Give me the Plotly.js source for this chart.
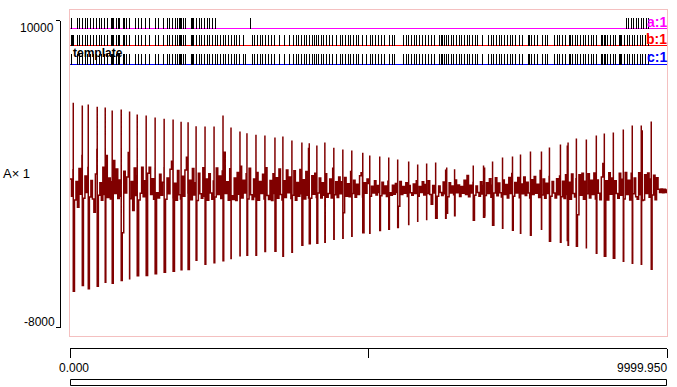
<!DOCTYPE html>
<html><head><meta charset="utf-8">
<script src="https://cdn.plot.ly/plotly-3.0.1.min.js"></script>
<style>html,body{margin:0;padding:0;background:#fff;overflow:hidden}#chart{width:677px;height:387px}
#chart .subplot.xy3 path.js-line, #chart .subplot.xy4 path.js-line, #chart .subplot.xy5 path.js-line{shape-rendering:crispEdges}
</style>
</head><body><div id="chart"></div>
<script>
// ---------------- data ----------------
const timeRange = [0, 9999.95];
const xTickVals = [0, 5000, 9999.95];
const xTickLabels = ['0.000', '9999.950'];
const yTickVals = [-8000, 10000];
const yTickLabels = ['-8000', '10000'];
const channelTitle = 'A\u00d7 1';
const templateLabel = 'template';
const rasterNames = ['a:1', 'b:1', 'c:1'];

const sampleInterval = 25;
const waveNoise = [
 700,-300,1250,-520,560,-946,1320,-180,2085,-420,880,-90,1380,-350,620,-460,-1240,1000,2437,-250,
 480,-540,1400,-200,2085,-380,760,-470,540,1791,-150,1300,-440,650,-300,-2447,1160,-120,820,2261,
 -450,560,-1140,1350,-260,900,-520,-130,1390,-330,610,-550,1050,1400,-200,720,-480,1330,-100,-400,
 980,-250,520,1360,-480,760,-160,1280,1750,-390,460,-540,1200,-220,-470,870,-300,1230,1986,-120,
 640,-510,1320,-230,490,-550,1050,-160,-420,1370,-300,700,-540,1010,-110,-480,590,-350,1350,-200,
 880,-440,1180,2280,-150,540,-540,1310,-280,-490,760,-550,1090,-180,1457,-400,640,-120,1020,-470,
 1330,-220,-500,700,-330,1090,-540,560,-140,980,-460,1360,-260,-490,620,-550,1020,-150,780,-420,
 1300,-200,-530,610,-380,1240,-100,820,-440,-240,1190,-540,500,-300,1260,-160,670,-470,1150,-250,
 600,-420,900,-180,1050,-380,-120,760,-400,480,-250,1010,-360,-150,700,-400,1340,-220,550,-380,
 820,-160,540,-1274,800,-300,430,-330,1147,-140,630,-360,400,-200,900,1070,-350,480,-130,700,
 450,-300,280,-120,600,-230,330,-90,-280,510,-160,300,-320,570,-100,-250,340,-180,450,-90,
 -887,560,-200,270,-130,490,-320,330,-100,-240,420,-150,600,-310,260,-90,550,-230,380,-140,
 610,-200,-770,320,-110,570,-300,290,-80,-260,530,-160,260,-330,480,-120,300,-210,650,-100,
 360,-320,270,-130,640,-200,912,-330,340,-110,500,-250,300,-90,-300,550,-170,330,-260,480,
 -150,720,-360,340,-120,780,-280,470,-100,-350,650,-200,380,-400,800,-150,1030,-300,500,-120,
 790,-390,420,-160,830,-260,520,-110,-410,660,-200,850,-130,400,-380,1206,-230,700,-420,460,
 -140,860,-300,560,-120,-410,720,-210,880,-330,
 570,-440,950,-200,520,-480,1000,-150,-350,720,-1392,960,-250,1050,-480,580,-160,1010,-400,630,
 -200,1060,-470,650,-130,-510,820,1616,-300,610,-520,1080,-180,770,-480,600,-150,-420,1040,-250,
 690,-460,1090,-200,630,-520,1040,-160,760,-330,-480,1070,-220,610,-520,950,-140,1060,-370,700,-230,920,-510,780,
 110,-90,120,-100,110,-90,100
];

const spikeTimes = [55,206,306,456,590,707,858,998,1126,1276,1426,1577,1727,1861,1978,2112,2262,2413,2563,2697,
 2847,2964,3115,3265,3433,3566,3717,3884,3995,4008,4135,4269,4419,4570,4720,4904,5021,5188,5339,5489,
 5673,5824,5974,6125,6292,6310,6442,6755,6927,6945,7078,7245,7412,7546,7713,7897,8031,8215,8330,8343,
 8482,8649,8816,8950,9101,9268,9418,9569,9585,9736];
const spikeTops = [5175,5017,5075,4940,4899,4723,4782,4665,4489,4430,4313,4237,4196,4061,4037,3803,3785,3785,4430,3727,
 3492,3392,3299,3258,3140,3199,2964,2847,2537,2806,2671,2847,2537,2437,2378,2243,2085,2026,1968,1850,
 1733,1557,1616,1675,1264,1380,1282,1499,1499,1380,1733,1968,2026,2144,2320,2320,2554,2730,2671,2847,
 3082,3023,3258,3375,3434,3610,3844,3844,3570,4079];
const spikeBottoms = [-5871,-5537,-5730,-5578,-5343,-5402,-5244,-5144,-4968,-4950,-4851,-4757,-4698,-4616,-4599,-4053,-4288,-4206,-4089,-3954,
 -3795,-3760,-3760,-3543,-3526,-3819,-3584,-3174,-400,-3092,-3057,-2998,-2822,-2763,-2646,-2447,-2470,-2312,-2236,-2136,
 -1960,-1767,-1667,-1591,-1591,-1300,-1450,-1708,-1532,-1450,-2001,-2177,-2294,-2470,-2587,-2236,-2939,-2998,-2900,-3174,
 -3233,-3327,-3643,-3819,-3936,-4112,-4229,-4288,-560,-4581];

const rasterA = [28,122,167,212,256,301,346,390,446,490,535,580,624,691,714,736,781,814,836,891,920,948,1003,1092,1149,1192,1259,1338,1426,1483,1572,1627,1672,1717,1761,1794,1828,1851,1873,1894,1940,2040,2057,2073,2118,2162,2207,2252,2307,2341,2386,2429,
 3015,9318,9363,9402,9447,9485,9530,9569,9609,9652,9698];
const rasterB = [25,42,59,122,167,212,256,301,346,390,446,490,535,580,624,691,714,736,781,814,836,891,920,948,1003,1092,1149,1192,1259,1338,1426,1483,1572,1627,1672,1717,1761,1794,1828,1851,1873,1894,1940,2040,2057,2073,2118,2162,2207,2252,2307,2341,2386,2429,2475,2520,2563,2608,2653,2709,2754,2797,2842,2898,
 3055,3098,3143,3188,3232,3277,3322,3377,3423,3511,3590,3678,3745,3790,3834,3879,3924,3968,4013,4068,4096,4125,4168,4213,4247,4292,4347,4402,4459,4526,4570,4615,4660,4703,4748,4794,4837,4894,4961,
 5033,5071,5116,5161,5217,5272,5350,5395,5439,5584,5630,5673,5718,5763,5807,5852,5907,5952,6007,6053,6108,6186,6215,6242,6275,6303,6332,6387,6432,6476,6521,6566,6609,6655,6700,6743,6788,6834,6911,
 7011,7056,7101,7145,7190,7235,7278,7323,7379,7412,7469,7536,7579,7680,7703,7736,7780,7825,7914,7959,8004,8114,8159,8205,8248,8305,8360,8388,8415,8460,8505,8549,8594,8639,8683,8728,8773,8816,
 8895,8920,8945,8970,8995,9051,9096,9141,9196,9221,9241,9285,9330,9375,9418,9463,9509,9552,9597,9642,9686];
const rasterC = [28,122,167,212,256,301,346,390,446,490,535,580,624,691,714,736,781,814,836,891,920,948,1003,1092,1149,1192,1259,1338,1426,1483,1572,1627,1672,1717,1761,1794,1828,1851,1873,1894,1940,2040,2057,2073,2118,2162,2207,2252,2307,2341,2386,2429,2475,2520,2563,2608,2653,2709,2754,2797,2842,2898,2938,
 3055,3098,3143,3188,3232,3277,3322,3377,3423,3511,3590,3678,3745,3790,3834,3879,3924,3968,4013,4068,4096,4125,4168,4213,4247,4292,4347,4402,4459,4526,4570,4615,4660,4703,4748,4794,4837,4894,4961,
 5033,5071,5116,5161,5217,5272,5350,5395,5439,5584,5630,5673,5718,5763,5807,5852,5907,5952,6007,6053,6108,6186,6215,6242,6275,6303,6332,6387,6432,6476,6521,6566,6609,6655,6700,6743,6788,6834,6911,
 7011,7056,7101,7145,7190,7235,7278,7323,7379,7412,7469,7536,7579,7680,7703,7736,7780,7825,7914,7959,8004,8114,8159,8205,8248,8305,8360,8388,8415,8460,8505,8549,8594,8639,8683,8728,8773,8816,
 8895,8920,8945,8970,8995,9051,9096,9141,9196,9221,9241,9285,9330,9375,9418,9463,9509,9552,9597,9642,9686];

// ---------------- styles / layout ----------------
const W = 677, H = 387;
const fx = p => p / W;
const fy = p => 1 - p / H;
const FONT = 'Liberation Sans, Arial, sans-serif';
const FRAME = '#f4c0c0';
const WAVE = '#800000';
const rowColors = ['#ff00ff', '#ff0000', '#0000ff'];
const rowBase = [28.5, 45.5, 64.5];   // pixel rows of raster baselines
const tickPx = 10.5;

// waveform: samples + spike extremes merged in time order
const pts = waveNoise.map((v, i) => [i * sampleInterval, v, 0]);
spikeTimes.forEach((t, k) => { pts.push([t, spikeTops[k], 1]); pts.push([t, spikeBottoms[k], 2]); });
pts.sort((a, b) => (a[0] - b[0]) || (a[2] - b[2]));

function rasterTrace(times, yax) {
  const x = [], y = [];
  times.forEach(t => { x.push(t, t, null); y.push(0, 1, null); });
  return {type: 'scatter', mode: 'lines', x, y, xaxis: 'x', yaxis: yax,
    line: {color: '#000', width: 1, simplify: false}, hoverinfo: 'skip', showlegend: false};
}
function baseTrace(yax, color) {
  return {type: 'scatter', mode: 'lines', x: timeRange, y: [0, 0], xaxis: 'x', yaxis: yax,
    line: {color, width: 1}, hoverinfo: 'skip', showlegend: false};
}
function rowAxis(i) {
  const yb = rowBase[i];
  return {domain: [fy(yb + 2), fy(yb - 11)], range: [-2 / tickPx, 11 / tickPx], visible: false, fixedrange: true};
}

const traces = [
  {type: 'scatter', mode: 'lines', x: [], y: [], xaxis: 'x', yaxis: 'y', showlegend: false},
  {type: 'scatter', mode: 'lines', x: [], y: [], xaxis: 'x2', yaxis: 'y', showlegend: false},
  baseTrace('y3', rowColors[0]), baseTrace('y4', rowColors[1]), baseTrace('y5', rowColors[2]),
  rasterTrace(rasterA, 'y3'), rasterTrace(rasterB, 'y4'), rasterTrace(rasterC, 'y5'),
  {type: 'scatter', mode: 'lines', x: pts.map(p => p[0]), y: pts.map(p => p[1]), xaxis: 'x', yaxis: 'y2',
    line: {color: WAVE, width: 1.5, shape: 'hv', simplify: false}, hoverinfo: 'skip', showlegend: false}
];

const noTicks = {showgrid: false, zeroline: false, ticks: '', showticklabels: false, fixedrange: true};
const layout = {
  width: W, height: H, margin: {l: 0, r: 0, t: 0, b: 0, pad: 0},
  paper_bgcolor: '#ffffff', plot_bgcolor: 'rgba(0,0,0,0)', showlegend: false,
  font: {family: FONT, size: 11, color: '#000'},
  xaxis: Object.assign({domain: [fx(70), fx(667)], range: timeRange, anchor: 'y',
    showline: true, mirror: true, linecolor: FRAME, linewidth: 1}, noTicks),
  yaxis: Object.assign({domain: [fy(336), fy(10)], range: [0, 1],
    showline: true, mirror: true, linecolor: FRAME, linewidth: 1}, noTicks),
  xaxis2: {overlaying: 'x', anchor: 'free', position: fy(348), side: 'bottom', range: timeRange,
    tickmode: 'array', tickvals: xTickVals, ticks: 'outside', ticklen: 9, tickwidth: 1, tickcolor: '#000',
    showline: true, linecolor: '#000', linewidth: 1, showticklabels: false,
    showgrid: false, zeroline: false, fixedrange: true},
  yaxis2: {domain: [fy(327.5), fy(20.5)], anchor: 'free', position: fx(59.5), side: 'left',
    range: [yTickVals[0], yTickVals[1]], tickmode: 'array', tickvals: yTickVals,
    ticks: 'outside', ticklen: 4, tickwidth: 1, tickcolor: '#000',
    showline: true, linecolor: '#000', linewidth: 1, showticklabels: false,
    showgrid: false, zeroline: false, fixedrange: true},
  yaxis3: rowAxis(0), yaxis4: rowAxis(1), yaxis5: rowAxis(2),
  shapes: [{type: 'rect', xref: 'paper', yref: 'paper', x0: fx(70.5), x1: fx(666.5), y0: fy(385.5), y1: fy(379.5),
    line: {color: '#000', width: 1}, fillcolor: 'rgba(0,0,0,0)'}],
  annotations: [
    {text: yTickLabels[1], x: fx(55), y: fy(27.5), xanchor: 'right', yanchor: 'middle', font: {size: 12}},
    {text: yTickLabels[0], x: fx(55.5), y: fy(321.5), xanchor: 'right', yanchor: 'middle', font: {size: 12}},
    {text: xTickLabels[0], x: fx(74), y: fy(368), xanchor: 'center', yanchor: 'middle', font: {size: 12}},
    {text: xTickLabels[1], x: fx(667.5), y: fy(368), xanchor: 'right', yanchor: 'middle', font: {size: 12}},
    {text: channelTitle, x: fx(2), y: fy(173.5), xanchor: 'left', yanchor: 'middle', font: {size: 13}},
    {text: '<b>' + templateLabel + '</b>', x: fx(72), y: fy(53.5), xanchor: 'left', yanchor: 'middle', font: {size: 12}},
    {text: '<b>' + rasterNames[0] + '</b>', x: fx(668), y: fy(21.7), xanchor: 'right', yanchor: 'middle', font: {size: 14, color: rowColors[0]}},
    {text: '<b>' + rasterNames[1] + '</b>', x: fx(668), y: fy(38.7), xanchor: 'right', yanchor: 'middle', font: {size: 14, color: rowColors[1]}},
    {text: '<b>' + rasterNames[2] + '</b>', x: fx(668), y: fy(57.5), xanchor: 'right', yanchor: 'middle', font: {size: 14, color: rowColors[2]}}
  ].map(a => Object.assign({xref: 'paper', yref: 'paper', showarrow: false, borderpad: 0}, a))
};

Plotly.newPlot('chart', traces, layout, {staticPlot: true, displayModeBar: false});
</script>
</body></html>
